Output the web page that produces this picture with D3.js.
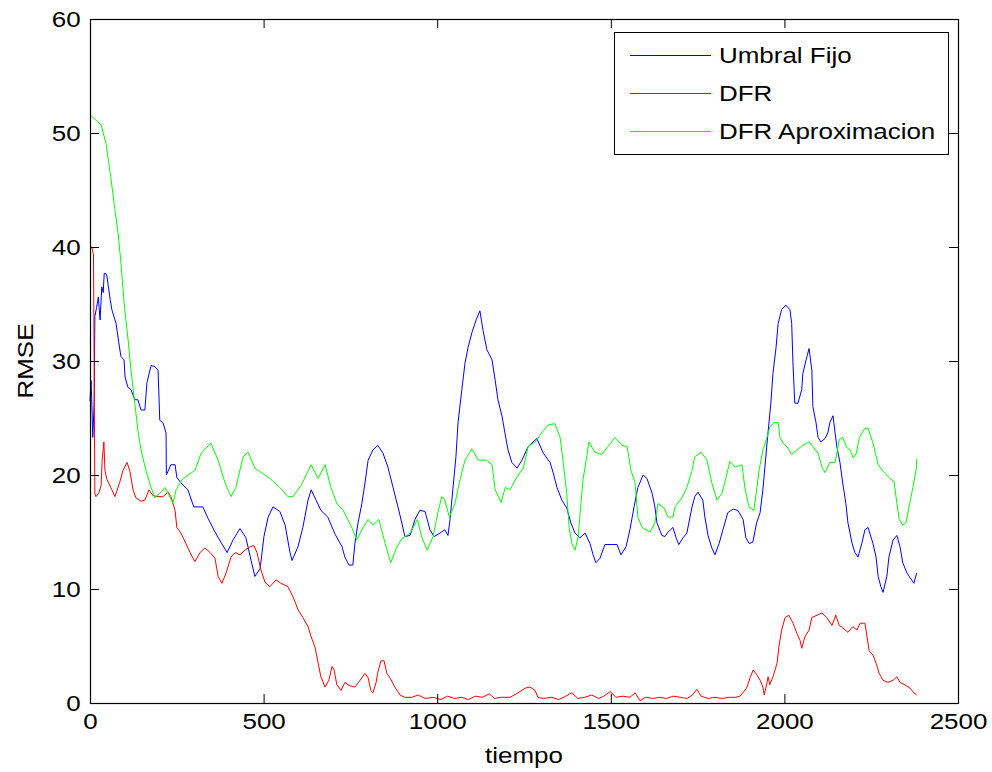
<!DOCTYPE html>
<html>
<head>
<meta charset="utf-8">
<script src="https://cdn.jsdelivr.net/npm/d3@7"></script>
<style>
  html, body { margin: 0; padding: 0; background: #fff; }
  text { font-family: "Liberation Sans", Arial, sans-serif; font-size: 22px; fill: #000; }
</style>
</head>
<body>
<script>
let w = 992
let h = 772

// tick values
let xTicks = [0, 500, 1000, 1500, 2000, 2500]
let yTicks = [0, 10, 20, 30, 40, 50, 60]
let labels = ["Umbral Fijo", "DFR", "DFR Aproximacion"]
let colors = ["#0000ff", "#ff0000", "#00ff00"]

// series, [tiempo, RMSE]
let umbralFijo = [[0,26.5],[3,28.3],[5,26.6],[8,23.3],[12,26.3],[14,33.9],[19,34.7],[24,35.6],[29,33.6],[34,36.5],[38,36.0],[41,37.7],[48,37.6],[53,36.5],[58,35.4],[63,34.5],[75,33.3],[83,31.6],[89,30.4],[98,30.1],[101,28.6],[109,27.7],[118,27.5],[129,26.6],[138,26.6],[147,25.7],[158,25.7],[164,28.1],[176,29.6],[187,29.5],[196,29.2],[201,24.8],[210,24.6],[219,23.7],[220,20.0],[233,20.9],[245,20.9],[250,19.8],[262,19.3],[282,18.7],[299,17.2],[325,17.2],[340,16.2],[360,15.0],[377,14.1],[395,13.2],[412,14.3],[432,15.3],[449,14.5],[464,12.5],[475,11.1],[490,11.8],[501,14.6],[513,16.3],[527,17.2],[547,16.8],[562,15.6],[576,13.2],[582,12.5],[599,13.7],[613,15.4],[628,17.8],[637,18.7],[651,17.8],[665,16.9],[685,16.3],[706,14.8],[726,13.7],[734,12.8],[746,12.1],[757,12.1],[763,14.0],[772,15.8],[783,17.5],[792,19.3],[801,21.3],[815,22.2],[829,22.6],[844,21.9],[858,20.7],[873,18.9],[887,17.2],[898,15.8],[907,14.6],[922,14.7],[936,16.1],[950,16.9],[965,16.8],[979,15.2],[991,14.6],[1008,14.9],[1022,15.2],[1031,14.7],[1037,16.1],[1045,18.7],[1054,21.6],[1060,24.6],[1071,27.5],[1080,29.8],[1089,31.2],[1100,32.5],[1112,33.6],[1123,34.4],[1132,32.7],[1143,31.0],[1158,30.1],[1167,28.3],[1175,26.6],[1187,25.1],[1195,23.7],[1204,22.2],[1215,21.1],[1230,20.6],[1244,21.3],[1262,22.5],[1287,23.2],[1306,21.9],[1325,21.1],[1334,20.2],[1345,18.9],[1359,17.8],[1373,17.1],[1385,15.8],[1397,14.9],[1411,14.5],[1426,14.9],[1440,14.0],[1449,13.0],[1457,12.3],[1469,12.7],[1483,13.9],[1503,13.9],[1518,13.9],[1529,13.0],[1544,13.7],[1555,15.2],[1567,17.2],[1578,18.9],[1593,20.0],[1604,19.7],[1619,18.4],[1627,17.2],[1633,15.8],[1647,14.7],[1656,14.6],[1665,15.0],[1679,15.4],[1688,14.5],[1696,13.9],[1708,14.5],[1719,14.9],[1734,17.2],[1742,18.1],[1751,18.5],[1765,17.8],[1771,16.3],[1780,14.7],[1791,13.6],[1800,13.0],[1812,14.0],[1823,15.2],[1837,16.7],[1852,17.0],[1866,16.9],[1881,16.1],[1889,14.5],[1898,14.0],[1909,14.1],[1920,15.8],[1930,16.7],[1938,18.7],[1950,22.8],[1961,26.3],[1967,28.9],[1976,31.2],[1982,33.3],[1992,34.5],[2004,34.9],[2016,34.5],[2021,33.3],[2025,29.5],[2030,26.3],[2039,26.3],[2050,27.5],[2053,28.9],[2065,30.4],[2071,31.1],[2079,29.2],[2082,26.0],[2091,24.6],[2097,23.3],[2105,22.9],[2117,23.2],[2125,23.7],[2131,24.6],[2140,25.2],[2146,23.7],[2151,22.5],[2160,21.1],[2168,19.3],[2177,17.5],[2183,15.8],[2195,14.0],[2203,13.2],[2212,12.8],[2223,14.0],[2232,15.2],[2241,15.4],[2255,14.0],[2264,12.8],[2270,11.1],[2278,10.2],[2284,9.7],[2295,11.1],[2301,12.8],[2313,14.3],[2324,14.7],[2333,13.7],[2341,12.3],[2353,11.4],[2362,11.0],[2373,10.5],[2381,11.4]]

let dfr = [[0,40.0],[5,40.0],[10,39.3],[12,29.5],[14,18.4],[17,18.1],[25,18.4],[32,19.1],[35,21.3],[40,22.9],[43,20.4],[49,19.6],[60,18.9],[72,18.1],[86,19.4],[95,20.4],[107,21.1],[115,20.3],[124,18.7],[132,18.0],[147,17.7],[158,17.8],[170,18.7],[181,18.2],[196,18.1],[210,18.1],[225,18.5],[233,18.1],[245,16.9],[250,15.4],[262,14.9],[276,14.0],[288,13.2],[302,12.4],[317,13.2],[331,13.6],[346,13.2],[360,12.7],[369,11.1],[380,10.5],[392,11.4],[406,12.8],[418,13.2],[432,13.0],[446,13.4],[461,13.7],[472,13.8],[481,13.2],[492,11.7],[504,10.6],[518,10.2],[536,10.8],[550,10.5],[570,10.2],[585,9.3],[599,8.2],[613,7.5],[628,6.7],[637,5.8],[648,4.9],[657,3.5],[665,2.3],[677,1.4],[688,2.0],[697,3.2],[703,2.9],[711,1.6],[723,1.1],[734,1.8],[749,1.5],[763,1.4],[778,2.0],[792,2.6],[801,2.2],[809,1.1],[815,0.9],[824,1.8],[829,2.7],[838,3.7],[847,3.7],[855,2.6],[864,2.2],[878,1.4],[893,0.7],[907,0.5],[927,0.5],[945,0.7],[965,0.4],[988,0.5],[1010,0.3],[1030,0.6],[1050,0.4],[1070,0.5],[1090,0.3],[1110,0.6],[1130,0.5],[1150,0.8],[1165,0.4],[1185,0.5],[1210,0.5],[1233,0.9],[1253,1.3],[1267,1.4],[1282,1.1],[1290,0.5],[1305,0.4],[1330,0.5],[1350,0.3],[1370,0.6],[1388,0.9],[1405,0.4],[1425,0.5],[1445,0.7],[1465,0.4],[1480,0.6],[1498,1.0],[1515,0.5],[1535,0.6],[1555,0.5],[1570,0.9],[1584,0.2],[1600,0.5],[1620,0.4],[1640,0.5],[1660,0.4],[1680,0.6],[1700,0.5],[1720,0.4],[1735,0.7],[1748,1.2],[1760,0.6],[1780,0.4],[1800,0.5],[1820,0.4],[1840,0.5],[1860,0.5],[1872,0.6],[1891,1.3],[1901,2.2],[1910,2.9],[1920,2.5],[1930,2.0],[1938,1.4],[1942,0.7],[1950,1.8],[1953,2.3],[1958,1.6],[1967,2.3],[1979,3.5],[1984,4.9],[1992,6.4],[2002,7.5],[2013,7.7],[2025,7.0],[2036,6.1],[2045,5.5],[2050,4.8],[2059,5.8],[2071,6.4],[2079,7.5],[2094,7.7],[2108,7.9],[2122,7.5],[2137,6.8],[2148,7.7],[2158,6.8],[2168,6.6],[2183,6.2],[2197,6.7],[2209,6.4],[2218,7.0],[2232,7.0],[2238,5.8],[2244,4.6],[2255,4.2],[2264,3.5],[2273,2.6],[2284,2.0],[2298,1.8],[2313,2.0],[2324,2.3],[2333,1.8],[2347,1.6],[2362,1.3],[2373,0.9],[2381,0.7]]

let dfrAprox = [[0,51.6],[32,50.7],[46,49.1],[60,46.1],[72,43.2],[81,41.2],[89,38.6],[100,34.5],[109,32.1],[118,29.2],[129,26.3],[138,23.9],[147,22.2],[161,20.4],[176,18.9],[187,18.0],[201,18.4],[216,18.9],[225,18.4],[239,17.5],[248,18.7],[268,19.7],[302,20.4],[320,21.9],[348,22.8],[369,21.3],[389,19.3],[406,18.1],[420,18.9],[441,21.6],[455,22.0],[475,20.6],[518,19.7],[547,18.9],[570,18.1],[585,18.1],[608,19.1],[637,20.9],[657,19.7],[677,20.9],[694,18.9],[711,17.5],[729,16.9],[754,15.4],[768,14.3],[783,15.2],[801,16.1],[815,15.6],[832,16.1],[850,14.0],[866,12.3],[884,13.7],[898,14.4],[922,14.9],[943,16.1],[955,14.6],[971,13.4],[988,14.6],[1002,16.7],[1013,18.1],[1022,17.8],[1035,16.3],[1051,17.5],[1066,19.6],[1080,21.3],[1100,22.3],[1118,21.3],[1142,21.3],[1158,20.9],[1167,18.7],[1184,17.6],[1196,18.9],[1210,18.7],[1229,19.8],[1248,20.6],[1262,22.5],[1282,22.9],[1306,23.9],[1320,24.4],[1339,24.5],[1354,23.3],[1363,21.1],[1373,18.4],[1380,15.4],[1388,14.0],[1397,13.4],[1406,14.6],[1414,17.5],[1420,19.6],[1429,21.3],[1437,22.9],[1454,22.0],[1474,21.8],[1492,22.5],[1512,23.3],[1532,22.6],[1547,22.5],[1558,20.4],[1570,19.3],[1578,16.3],[1590,15.4],[1613,15.0],[1627,15.8],[1636,17.5],[1653,17.1],[1665,16.3],[1679,16.3],[1685,17.2],[1705,18.0],[1719,18.9],[1734,20.4],[1742,21.6],[1760,22.0],[1777,21.3],[1791,19.3],[1806,17.8],[1820,18.4],[1832,19.8],[1843,21.2],[1858,20.7],[1878,20.9],[1886,18.9],[1898,17.2],[1912,16.9],[1920,18.7],[1927,20.4],[1938,22.2],[1950,23.3],[1958,24.2],[1970,24.6],[1982,24.6],[1987,23.3],[1996,22.8],[2007,22.5],[2021,21.8],[2036,22.2],[2053,22.6],[2071,22.9],[2082,22.5],[2097,21.9],[2108,20.7],[2117,20.2],[2131,21.1],[2146,21.1],[2158,23.1],[2168,23.3],[2180,22.4],[2189,22.2],[2198,21.5],[2207,21.9],[2216,23.3],[2232,24.1],[2241,24.1],[2255,22.8],[2270,20.9],[2285,20.3],[2304,19.7],[2316,19.4],[2324,17.5],[2331,16.1],[2341,15.6],[2350,15.8],[2359,17.2],[2370,18.9],[2380,20.6],[2381,21.4]]

let series = [umbralFijo, dfr, dfrAprox]

let mLeft = 90, mRight = 958, mTop = 19, mBottom = 703
let stretch = "scale(1.18,1)"

let svg = d3.select("body")
    .append("svg")
    .attr("width", w)
    .attr("height", h)

svg.append("rect").attr("width", w).attr("height", h).attr("fill", "#fff")

let x = d3.scaleLinear().domain([0, 2500]).range([mLeft, mRight])
let y = d3.scaleLinear().domain([0, 60]).range([mBottom, mTop])
let fmt = d3.format("d")

let curve = d3.line()
    .x(d => x(d[0]))
    .y(d => y(d[1]))

// the three curves
svg.append("g")
    .selectAll("path")
    .data(series)
    .enter()
    .append("path")
    .attr("d", curve)
    .attr("fill", "none")
    .attr("stroke", (d, i) => colors[i])
    .attr("stroke-width", 1)

// axes, ticks pointing in like matlab
let ax = svg.append("g")
ax.append("g")
    .attr("transform", "translate(0," + mBottom + ")")
    .call(d3.axisBottom(x).tickValues(xTicks).tickFormat(fmt).tickSize(-9).tickSizeOuter(0).tickPadding(10))
ax.append("g")
    .attr("transform", "translate(0," + mTop + ")")
    .call(d3.axisTop(x).tickValues(xTicks).tickSize(-9).tickSizeOuter(0).tickFormat(""))
ax.append("g")
    .attr("transform", "translate(" + mLeft + ",0)")
    .call(d3.axisLeft(y).tickValues(yTicks).tickFormat(fmt).tickSize(-9).tickSizeOuter(0).tickPadding(8))
ax.append("g")
    .attr("transform", "translate(" + mRight + ",0)")
    .call(d3.axisRight(y).tickValues(yTicks).tickSize(-9).tickSizeOuter(0).tickFormat(""))

ax.selectAll(".domain").remove()
ax.selectAll("line").attr("stroke", "#000")
ax.selectAll("text")
    .attr("font-size", null)
    .attr("font-family", null)
    .attr("fill", "#000")
    .attr("transform", stretch)

svg.append("rect")
    .attr("x", mLeft + 0.5)
    .attr("y", mTop + 0.5)
    .attr("width", mRight - mLeft)
    .attr("height", mBottom - mTop)
    .attr("fill", "none")
    .attr("stroke", "#000")
    .attr("stroke-width", 1.2)

// axis titles
svg.append("text")
    .attr("transform", "translate(" + (mLeft + mRight) / 2 + ",763) " + stretch)
    .attr("text-anchor", "middle")
    .text("tiempo")

svg.append("text")
    .attr("transform", "translate(33," + (mTop + mBottom) / 2 + ") rotate(-90) " + stretch)
    .attr("text-anchor", "middle")
    .text("RMSE")

// legend
let leg = svg.append("g")
leg.append("rect")
    .attr("x", 614.5)
    .attr("y", 32.5)
    .attr("width", 334)
    .attr("height", 122)
    .attr("fill", "#fff")
    .attr("stroke", "#000")

let rowY = [55, 93, 131]
let entry = leg.selectAll("g.entry")
    .data(labels)
    .enter()
    .append("g")
    .attr("class", "entry")
    .attr("transform", (d, i) => "translate(0," + rowY[i] + ")")

entry.append("path")
    .attr("d", "M630,0.5H711")
    .attr("fill", "none")
    .attr("stroke", (d, i) => colors[i])
    .attr("stroke-width", 1)

entry.append("text")
    .attr("transform", "translate(719,0) " + stretch)
    .attr("dy", "0.35em")
    .text(d => d)
</script>
</body>
</html>
